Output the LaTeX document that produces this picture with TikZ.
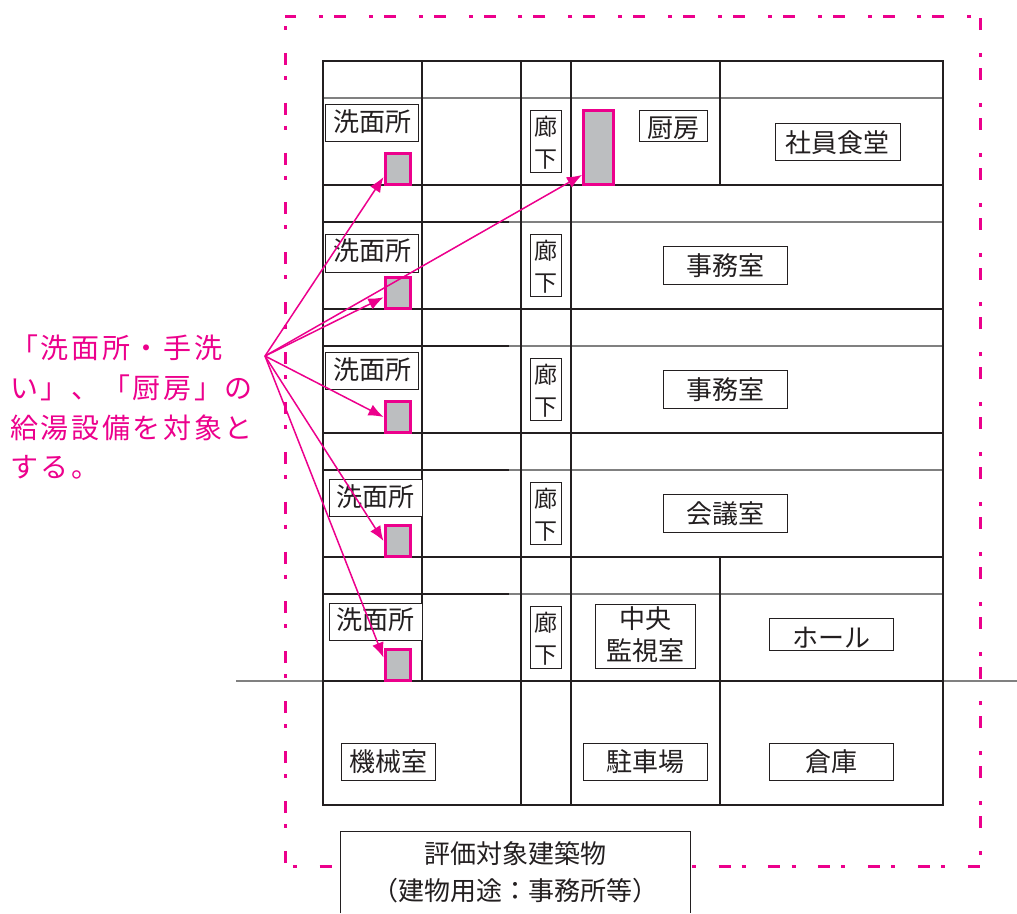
\documentclass[tikz,border=0pt]{standalone}
\usepackage{fontspec}
\setmainfont{Noto Sans CJK JP}
\newfontfamily\notefont[LetterSpace=9.5]{Noto Sans CJK JP}
\usetikzlibrary{arrows.meta}
\definecolor{planpink}{HTML}{EC008C}
\definecolor{plangray}{HTML}{BCBEC0}
\definecolor{planink}{HTML}{231F20}
\newcommand{\nudged}[2]{\raisebox{#1}[\height][\depth]{#2}}
\tikzset{
  wall/.style={line width=1.5pt,draw=planink},
  thinwall/.style={line width=1.1pt,draw=black!50},
  roombox/.style 2 args={draw=planink,line width=0.8pt,fill=white,text=planink,inner sep=0pt,
    align=center,minimum width=#1pt,minimum height=#2pt,font=\fontsize{26}{32}\selectfont},
  hallbox/.style={roombox={31}{62},font=\fontsize{23}{32}\selectfont},
  tapbox/.style 2 args={draw=planpink,fill=plangray,line width=3pt,inner sep=0pt,
    minimum width=#1pt,minimum height=#2pt},
  feed/.style={draw=planpink,line width=1.5pt,-{Latex[length=15pt,width=12pt]}}
}
\begin{document}
\begin{tikzpicture}[x=1pt,y=-1pt]
  \useasboundingbox (0,0) rectangle (1017,913);

  % ground line
  \draw[thinwall] (236,681) -- (1017,681);

  % thin lines of each floor
  \foreach \y in {98,222,346,470,594}
    \draw[thinwall] (323,\y) -- (943,\y);
  \foreach \y in {222,346,470,594}
    \draw[wall,line width=1.1pt] (323,\y) -- (509,\y);

  % floors and columns
  \draw[wall] (323,61) rectangle (943,805);
  \foreach \y in {185,309,433,557,681}
    \draw[wall] (323,\y) -- (943,\y);
  \draw[wall] (422,61) -- (422,681);
  \draw[wall] (521,61) -- (521,805);
  \draw[wall] (571,61) -- (571,805);
  \draw[wall] (720,61) -- (720,185);
  \draw[wall] (720,557) -- (720,805);

  % site boundary
  \draw[planpink,line width=3pt,dash pattern=on 12pt off 11pt on 4pt off 22.87pt,dash phase=13pt]
    (285,16) -- (285,866) -- (980,866) -- (980,16) -- cycle;

  % washrooms
  \node[roombox={93}{37}] (wash1) at (372,122.5) {\nudged{1pt}{洗面所}};
  \node[roombox={93}{38}] (wash2) at (372,253) {\nudged{2pt}{洗面所}};
  \node[roombox={93}{37}] (wash3) at (372,370.5) {\nudged{1pt}{洗面所}};
  \node[roombox={93}{37}] (wash4) at (375.5,497.5) {\nudged{1pt}{洗面所}};
  \node[roombox={93}{37}] (wash5) at (375.5,621.5) {\nudged{2pt}{洗面所}};

  % corridors
  \foreach \n/\y in {1/141,2/265,3/389,4/513,5/637}
    \node[hallbox] (hall\n) at (545.5,\y) {\nudged{-2pt}{廊}\\\nudged{-2pt}{下}};

  % other rooms
  \node[roombox={68}{31}] (kitchen) at (673,125.5) {\nudged{-3pt}{厨房}};
  \node[roombox={125}{37}] (canteen) at (837.5,141.5) {\nudged{-1pt}{社員食堂}};
  \node[roombox={124}{38}] (office1) at (725.5,265) {\nudged{-1pt}{事務室}};
  \node[roombox={124}{38}] (office2) at (725.5,389) {\nudged{-1pt}{事務室}};
  \node[roombox={124}{38}] (meeting) at (725.5,513) {\nudged{-1pt}{会議室}};
  \node[roombox={100}{64}] (control) at (645,636) {\nudged{1.5pt}{中央}\\\nudged{1.5pt}{監視室}};
  \node[roombox={124}{32}] (hall) at (831,634) {\nudged{-3.5pt}{ホール}};
  \node[roombox={94}{37}] (machine) at (388,761.5) {機械室};
  \node[roombox={124}{37}] (parking) at (645,761.5) {駐車場};
  \node[roombox={124}{37}] (store) at (831,761.5) {倉庫};

  % building caption, bottom side runs off the page
  \node[roombox={349}{81},draw=none,font=\fontsize{26}{37}\selectfont] (bldg) at (515.5,872.5)
    {評価対象建築物\\（建物用途：事務所等）};
  \draw[planink,line width=0.8pt] (bldg.south west) |- (bldg.north east) -- (bldg.south east);

  % hot water points
  \foreach \n/\y in {1/169,2/293,3/417,4/541,5/665}
    \node[tapbox={25}{31}] (tap\n) at (397.5,\y) {};
  \node[tapbox={30}{74}] (tapK) at (598.5,147.5) {};

  % note and its arrows
  \node[anchor=north west,inner sep=0pt,align=left,text=planpink,
    font=\notefont\fontsize{28}{39.6}\selectfont] (note) at (10,335)
    {「洗面所・手洗\\い」、「厨房」の\\給湯設備を対象と\\する。};
  \coordinate (src) at (265,356);
  \draw[feed] (src) -- (tap1.210);
  \draw[feed] (src) -- (tapK.239);
  \draw[feed] (src) -- (tap2.197);
  \draw[feed] (src) -- (tap3.west);
  \draw[feed] (src) -- (tap4.west);
  \draw[feed] (src) -- (tap5.152);
\end{tikzpicture}
\end{document}
